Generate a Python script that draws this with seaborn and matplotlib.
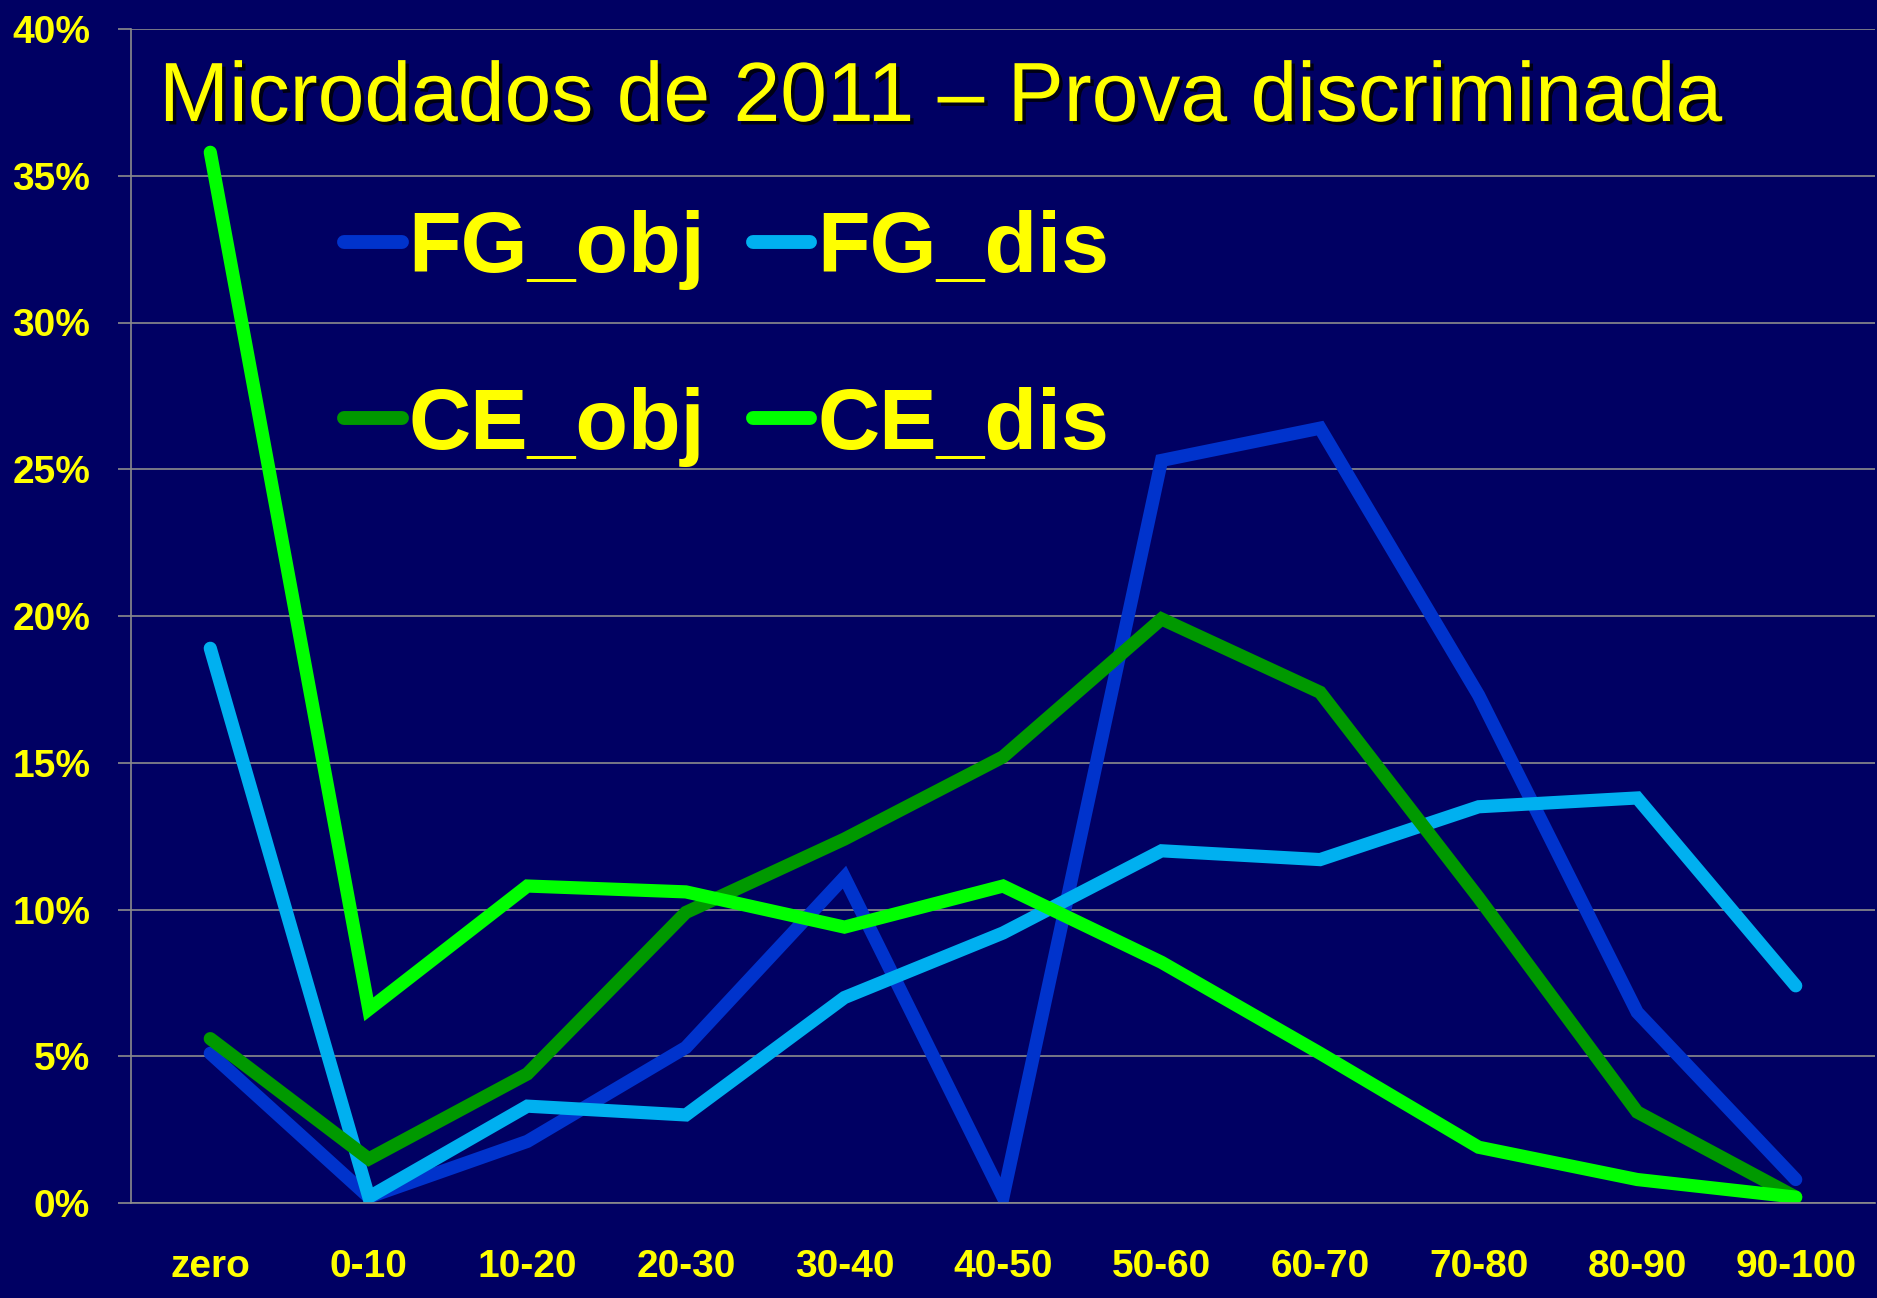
import pandas as pd
import numpy as np
import matplotlib
matplotlib.use("Agg")
import matplotlib.pyplot as plt
import matplotlib.patheffects as pe
import seaborn as sns

# faixas de nota
faixas = ["zero", "0-10", "10-20", "20-30", "30-40", "40-50",
          "50-60", "60-70", "70-80", "80-90", "90-100"]

# percentuais
fg_obj = [5.1, 0.2, 2.1, 5.3, 11.1, 0.2, 25.3, 26.4, 17.3, 6.5, 0.8]
fg_dis = [18.9, 0.2, 3.3, 3.0, 7.0, 9.2, 12.0, 11.7, 13.5, 13.8, 7.4]
ce_obj = [5.6, 1.5, 4.4, 9.9, 12.4, 15.2, 19.9, 17.4, 10.4, 3.1, 0.2]
ce_dis = [35.8, 6.6, 10.8, 10.6, 9.4, 10.8, 8.2, 5.1, 1.9, 0.8, 0.2]

series = ["FG_obj", "FG_dis", "CE_obj", "CE_dis"]
cores = {"FG_obj": "#0033CC", "FG_dis": "#00B0F0",
         "CE_obj": "#009900", "CE_dis": "#00FF00"}

df = pd.DataFrame({"faixa": faixas * 4,
                   "pct": fg_obj + fg_dis + ce_obj + ce_dis,
                   "serie": np.repeat(series, len(faixas))})

fundo = "#000063"
amarelo = "#FFFF00"
cinza = "#8C8C8C"

fig = plt.figure(figsize=(18.77, 12.98), dpi=100, facecolor=fundo)
ax = fig.add_axes([131 / 1877, 95 / 1298, 1744 / 1877, 1174 / 1298])
ax.set_facecolor(fundo)

sns.lineplot(data=df, x="faixa", y="pct", hue="serie", hue_order=series,
             palette=cores, sort=False, ax=ax)
for ln in ax.lines:
    ln.set_linewidth(9.5)
    ln.set_solid_capstyle("round")
    ln.set_solid_joinstyle("miter")

ax.set_xlim(-0.5, 10.5)
ax.set_ylim(0, 40)
ax.set_yticks(range(0, 41, 5))
ax.set_yticklabels([f"{v}%" for v in range(0, 41, 5)])
ax.set_xlabel("")
ax.set_ylabel("")
ax.grid(axis="y", color=cinza, linewidth=1.2)
ax.grid(axis="x", visible=False)
ax.set_axisbelow(True)
for s in ["top", "right"]:
    ax.spines[s].set_visible(False)
for s in ["left", "bottom"]:
    ax.spines[s].set_color(cinza)
    ax.spines[s].set_linewidth(1.2)

ax.tick_params(axis="y", colors=cinza, length=9.5, width=1.2, pad=20)
ax.tick_params(axis="x", length=0, pad=33)
for lab in ax.get_yticklabels() + ax.get_xticklabels():
    lab.set_color(amarelo)
    lab.set_fontfamily("Liberation Sans")
    lab.set_fontweight("bold")
    lab.set_fontsize(28)

# titulo
fig.text(159 / 1877, 1 - 121 / 1298, "Microdados de 2011 \u2013 Prova discriminada",
         color=amarelo, fontsize=60.5, family="Liberation Sans", va="baseline",
         path_effects=[pe.withSimplePatchShadow(offset=(2.5, -2.5),
                                                shadow_rgbFace="black", alpha=0.8)])

# legenda em duas linhas
h, l = ax.get_legend_handles_labels()
ordem = [0, 2, 1, 3]
leg = ax.legend([h[i] for i in ordem], [l[i] for i in ordem], ncol=2,
                loc="upper left", bbox_to_anchor=(301 / 1877, 1 - 167 / 1298),
                bbox_transform=fig.transFigure, frameon=False, borderpad=0,
                handlelength=0.67, handletextpad=0.08, columnspacing=0.55,
                labelspacing=1.12,
                prop={"family": "Liberation Sans", "weight": "bold", "size": 62})
for t in leg.get_texts():
    t.set_color(amarelo)
for ln in leg.get_lines():
    ln.set_linewidth(10)
    ln.set_solid_capstyle("round")

fig.savefig("out.png", dpi=100, facecolor=fundo)
